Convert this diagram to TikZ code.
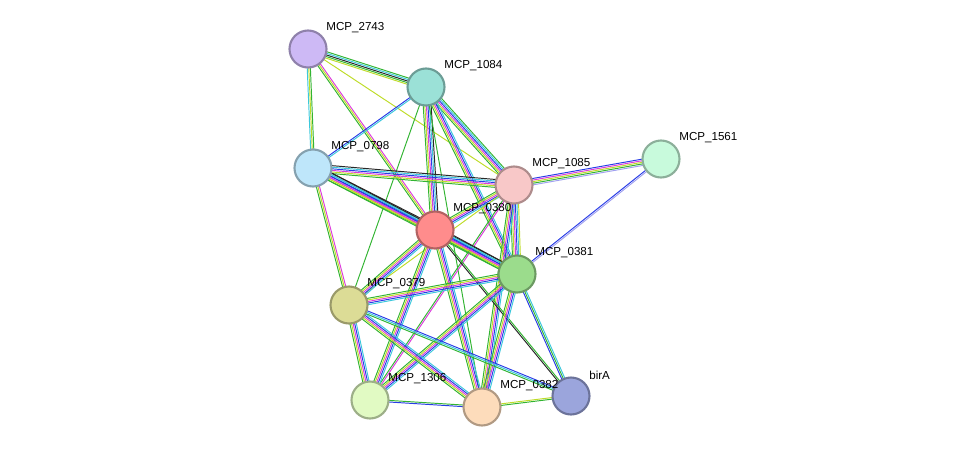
\documentclass[tikz,border=0pt]{standalone}
\usepackage{fontspec}
\setsansfont{Liberation Sans}
\usetikzlibrary{calc,backgrounds}
\definecolor{sgreen}{RGB}{50,180,50}
\definecolor{sblue}{RGB}{40,60,230}
\definecolor{smag}{RGB}{220,60,220}
\definecolor{syel}{RGB}{190,220,40}
\definecolor{sblack}{RGB}{40,40,40}
\definecolor{scyan}{RGB}{60,200,220}
\definecolor{slav}{RGB}{160,160,240}

% one coloured strand per evidence type
\newcommand\pedge[3]{%
  \foreach \c [count=\n] in {#3} {\xdef\ncol{\n}}%
  \foreach \c [count=\k] in {#3} {%
    \pgfmathsetmacro\off{(\k-(\ncol+1)/2)*0.9}%
    \draw[\c, strand] ($(#1)!\off pt!90:(#2)$) -- ($(#2)!\off pt!-90:(#1)$);
  }}

\begin{document}
\begin{tikzpicture}[
    x=0.02cm, y=-0.02cm,
    prot/.style={circle, draw=#1!70!black, fill=#1, line width=1.2pt, minimum size=0.74cm, inner sep=0pt},
    tag/.style={anchor=west, font=\sffamily\fontsize{6.6}{7}\selectfont, inner sep=0pt},
    strand/.style={line width=0.55pt}
]
\useasboundingbox (0,0) rectangle (976,453);

% proteins
\definecolor{c2743}{RGB}{205,185,245}
\definecolor{c1084}{RGB}{155,225,215}
\definecolor{c0798}{RGB}{190,230,250}
\definecolor{c1085}{RGB}{248,200,200}
\definecolor{c1561}{RGB}{200,250,220}
\definecolor{c0380}{RGB}{255,140,140}
\definecolor{c0381}{RGB}{155,220,140}
\definecolor{c0379}{RGB}{220,220,150}
\definecolor{c1306}{RGB}{225,250,195}
\definecolor{c0382}{RGB}{253,220,187}
\definecolor{cbirA}{RGB}{155,165,220}
\node[prot=c2743] (p2743) at (308,49) {};
\node[prot=c1084] (p1084) at (426,87) {};
\node[prot=c0798] (p0798) at (313,168) {};
\node[prot=c1085] (p1085) at (514,185) {};
\node[prot=c1561] (p1561) at (661,159) {};
\node[prot=c0380] (p0380) at (435,230) {};
\node[prot=c0381] (p0381) at (517,274) {};
\node[prot=c0379] (p0379) at (349,305) {};
\node[prot=c1306] (p1306) at (370,400) {};
\node[prot=c0382] (p0382) at (482,407) {};
\node[prot=cbirA] (pbirA) at (571,396) {};

% labels
\foreach \p/\t in {2743/MCP\_2743, 1084/MCP\_1084, 0798/MCP\_0798, 1085/MCP\_1085,
    1561/MCP\_1561, 0380/MCP\_0380, 0381/MCP\_0381, 0379/MCP\_0379,
    1306/MCP\_1306, 0382/MCP\_0382, birA/birA}
  \node[tag] (l\p) at ($(p\p)+(18,-21)$) {\t};

% interactions
\begin{scope}[on background layer]
\pedge{p2743}{p1084}{syel,sgreen,sblack,scyan,sgreen}
\pedge{p2743}{p0798}{scyan,syel,sgreen}
\pedge{p2743}{p0380}{sgreen,syel,smag}
\pedge{p2743}{p1085}{syel}
\pedge{p1084}{p0798}{sblue,scyan}
\pedge{p1084}{p1085}{sgreen,syel,smag,sblue,scyan,sgreen}
\pedge{p1084}{p0380}{sgreen,syel,smag,sblue,scyan,sblack}
\pedge{p1084}{p0381}{sgreen,syel,smag,sblue,scyan}
\pedge{p1084}{p0379}{sgreen}
\pedge{p1084}{p0382}{sgreen}
\pedge{p0798}{p1085}{sgreen,syel,smag,sblue,scyan,sblack}
\pedge{p0798}{p0380}{sgreen,syel,smag,sblue,scyan,sblack}
\pedge{p0798}{p0381}{sgreen,syel,smag,sblue,scyan,sblack}
\pedge{p0798}{p0379}{sgreen,syel,smag}
\pedge{p1085}{p1561}{slav,sgreen,syel,smag,sblue}
\pedge{p1085}{p0380}{sgreen,syel,smag,sblue,scyan}
\pedge{p1085}{p0381}{sgreen,syel,smag,sblue,scyan,syel}
\pedge{p1085}{p0379}{syel}
\pedge{p1085}{p1306}{sgreen,smag}
\pedge{p1085}{p0382}{sgreen,syel,smag,sblue,scyan}
\pedge{p1561}{p0381}{sblue,slav}
\pedge{p0380}{p0381}{sgreen,syel,smag,sblue,scyan,sblack}
\pedge{p0380}{p0379}{sgreen,syel,smag,sblue,scyan}
\pedge{p0380}{p1306}{sgreen,syel,smag,sblue,scyan}
\pedge{p0380}{p0382}{sgreen,syel,smag,sblue,scyan}
\pedge{p0380}{pbirA}{sblack,sgreen}
\pedge{p0381}{p0379}{sgreen,syel,smag,sblue,scyan}
\pedge{p0381}{p1306}{sgreen,syel,smag,sblue,scyan}
\pedge{p0381}{p0382}{sgreen,syel,smag,sblue,scyan}
\pedge{p0381}{pbirA}{sblue,sgreen,scyan}
\pedge{p0379}{p1306}{sgreen,syel,smag,sblue,scyan}
\pedge{p0379}{p0382}{sgreen,syel,smag,sblue,scyan}
\pedge{p0379}{pbirA}{sgreen,scyan,sblue}
\pedge{p1306}{p0382}{sblue,sgreen}
\pedge{p0382}{pbirA}{sgreen,syel}
\end{scope}
\end{tikzpicture}
\end{document}
